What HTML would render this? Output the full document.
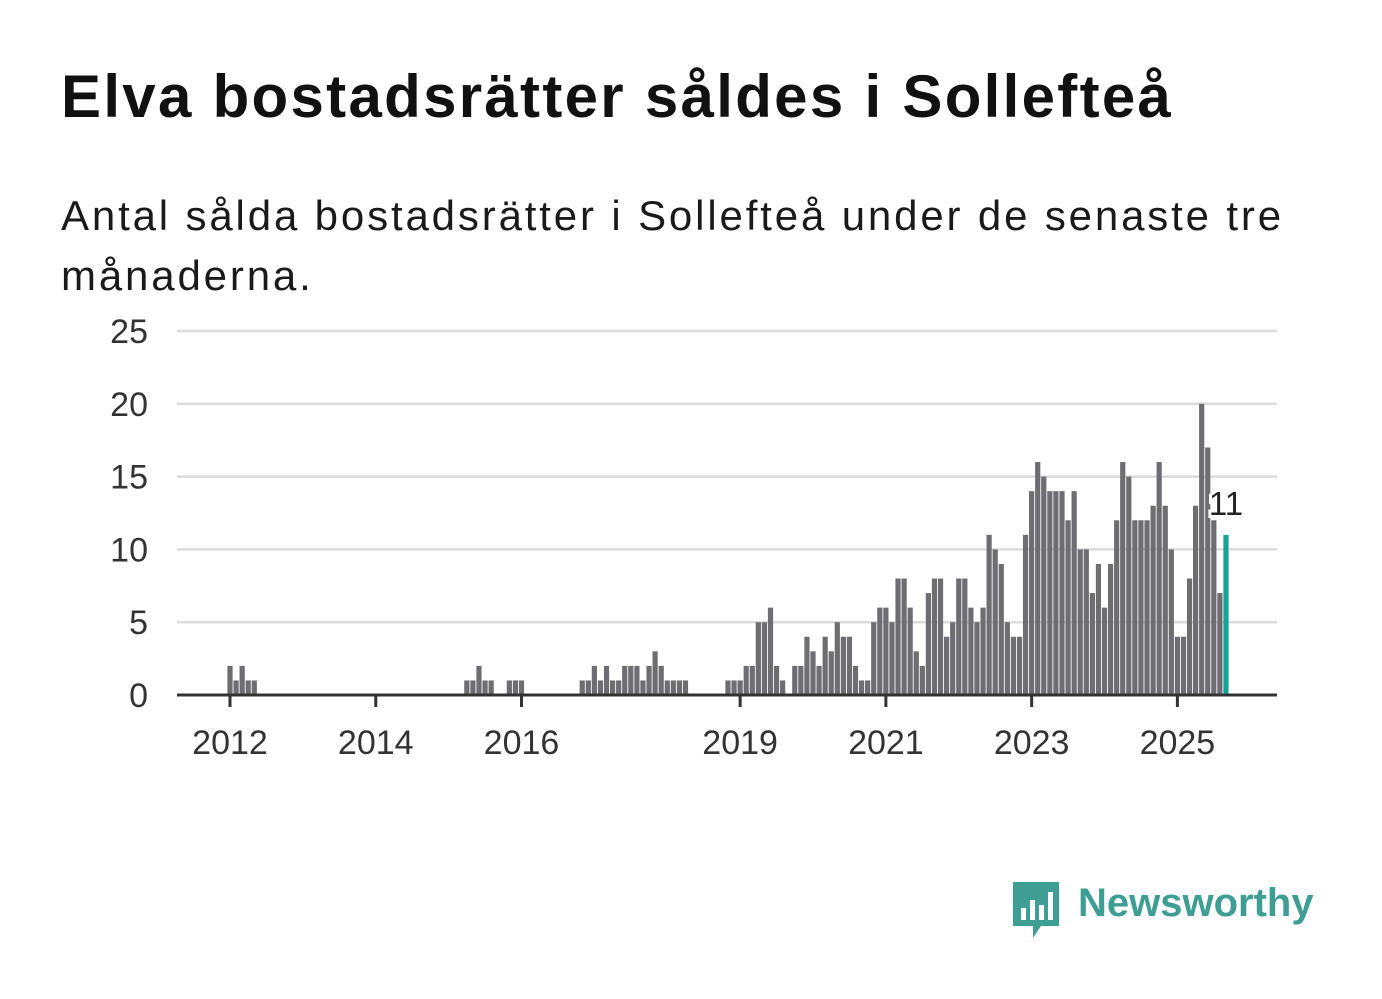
<!DOCTYPE html>
<html><head><meta charset="utf-8"><style>
body{margin:0;background:#fff;width:1382px;height:999px;overflow:hidden;font-family:"Liberation Sans",sans-serif;}
h1{position:absolute;left:61px;top:62px;margin:0;font-size:60px;font-weight:bold;color:#111;letter-spacing:2.3px}
.sub{position:absolute;left:61px;top:186px;margin:0;font-size:42px;line-height:60px;color:#1a1a1a;width:1260px;letter-spacing:2.85px}
</style></head><body>
<h1>Elva bostadsrätter såldes i Sollefteå</h1>
<p class="sub">Antal sålda bostadsrätter i Sollefteå under de senaste tre månaderna.</p>
<svg id="chart" width="1382" height="999" style="position:absolute;left:0;top:0"></svg>
<div style="position:absolute;left:1011px;top:878px;">
<svg width="52" height="62"><path d="M2 4h46v44H30l-8 12v-12H2z" fill="#3f9e94"/><rect x="10" y="30" width="5" height="12" fill="#fff"/><rect x="19" y="22" width="5" height="20" fill="#fff"/><rect x="28" y="27" width="5" height="15" fill="#fff"/><rect x="37" y="14" width="5" height="28" fill="#fff"/></svg>
<span style="position:absolute;left:67px;top:3px;font-size:40px;font-weight:bold;color:#3f9e94;white-space:nowrap">Newsworthy</span>
</div>
<script>
const startMonths=[0,39,46,58,82,131];
const series=[
[2,1,2,1,1],
[1,1,2,1,1],
[1,1,1],
[1,1,2,1,2,1,1,2,2,2,1,2,3,2,1,1,1,1],
[1,1,1,2,2,5,5,6,2,1,0,2,2,4,3,2,4,3,5,4,4,2,1,1,5,6,6,5,8,8,6,3,2,7,8,8,4,5,8,8,6,5,6,11,10,9,5,4,4],
[11,14,16,15,14,14,14,12,14,10,10,7,9,6,9,12,16,15,12,12,12,13,16,13,10,4,4,8,13,20,17,12,7,11]
];
const yTicks=[0,5,10,15,20,25];
const xTickYears=[2012,2014,2016,2019,2021,2023,2025];
const lastLabel="11";
const NS="http://www.w3.org/2000/svg",svg=document.getElementById('chart');
const x=m=>230+m*6.073, y=v=>695-v*14.56;
function mk(t,a,txt){const e=document.createElementNS(NS,t);for(const k in a)e.setAttribute(k,a[k]);if(txt!==undefined)e.textContent=txt;svg.appendChild(e);return e;}
yTicks.forEach(v=>{
 if(v>0){const g=mk('line',{x1:177,x2:1277,y1:y(v),y2:y(v),stroke:'#dcdcdc','stroke-width':2.5});
 
 }
 const t=mk('text',{x:148,y:y(v)+12,'text-anchor':'end','font-size':34,fill:'#333','font-family':'Liberation Sans'},String(v));
 
 
});
const all=[];series.forEach((s,i)=>s.forEach((v,j)=>all.push([startMonths[i]+j,v])));
const lastM=Math.max(...all.map(d=>d[0]));
all.forEach(([m,v])=>{if(v<=0)return;
 const r=mk('rect',{x:x(m)-2.6,y:y(v),width:5.2,height:v*14.56,fill:m===lastM?'#17a398':'#6e6d72'});
 
 
});
const lastV=all.find(d=>d[0]===lastM)[1];
const lb=mk('text',{x:x(lastM),y:y(lastV)-20,'text-anchor':'middle','font-size':33,fill:'#222',stroke:'#fff','stroke-width':6,'paint-order':'stroke','font-family':'Liberation Sans'},lastLabel);


const base=mk('line',{x1:177,x2:1277,y1:695,y2:695,stroke:'#333','stroke-width':3});


xTickYears.forEach(yr=>{const m=(yr-2012)*12;
 const tk=mk('line',{x1:x(m),x2:x(m),y1:695,y2:707,stroke:'#333','stroke-width':3});
 
 
 const t=mk('text',{x:x(m),y:754,'text-anchor':'middle','font-size':34,fill:'#333','font-family':'Liberation Sans'},String(yr));
 
 
});
</script>
</body></html>
